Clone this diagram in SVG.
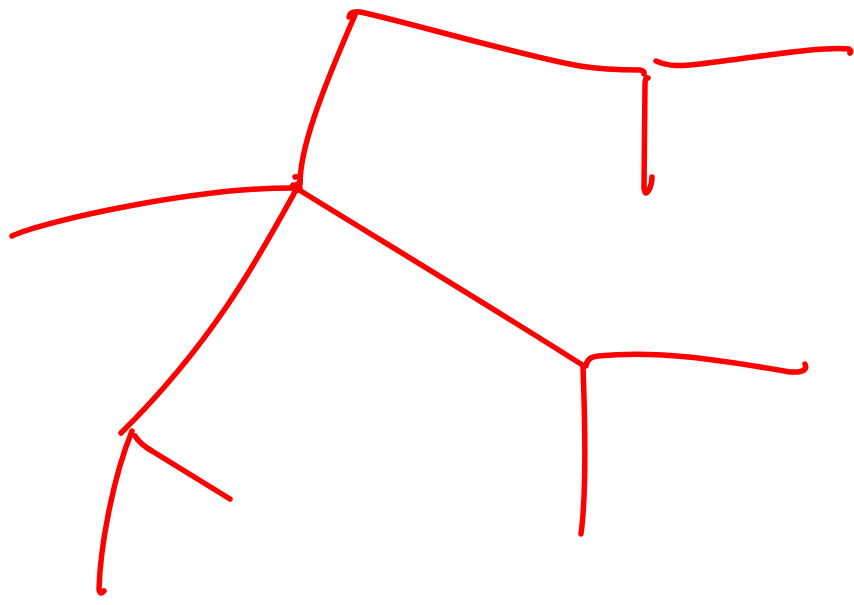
<svg xmlns="http://www.w3.org/2000/svg" width="854" height="605" viewBox="0 0 854 605">
<style>
.s{fill:none;stroke:#ff0000;stroke-width:5.5;stroke-linecap:round;stroke-linejoin:round}
</style>
<rect width="854" height="605" fill="#ffffff"/>
<g id="strokes">
<path class="s" d="M12,236 C40,222 200,186 300,188"/>
<path class="s" d="M300,184 C300,150 318,100 355,15"/>
<path class="s" d="M349,17 Q350,11 360,12 C400,20 530,58 580,66 C605,70 625,70 640,70 Q645,71 644,74"/>
<path class="s" d="M648,78 Q645,76 645,85 L644,188 Q645,197 649,190 Q652,184 652,177"/>
<path class="s" d="M656,61 C670,67 680,66 700,64 C760,57 820,46 849,49 Q852,51 850,53"/>
<path class="s" d="M295,177 Q301,176 300,182 Q297,186 293,185 Q290,189 298,190"/>
<path class="s" d="M296,190 C260,255 215,340 121,433"/>
<path class="s" d="M132,431 C112,480 100,550 99,589 Q100,596 104,591"/>
<path class="s" d="M135,436 Q140,444 152,451 L230,499"/>
<path class="s" d="M296,188 C380,240 480,300 584,366"/>
<path class="s" d="M586,366 Q587,357 598,356 C660,350 720,360 790,372 Q809,373 805,364"/>
<path class="s" d="M583,367 C585,420 587,490 581,534"/>
</g>
</svg>
